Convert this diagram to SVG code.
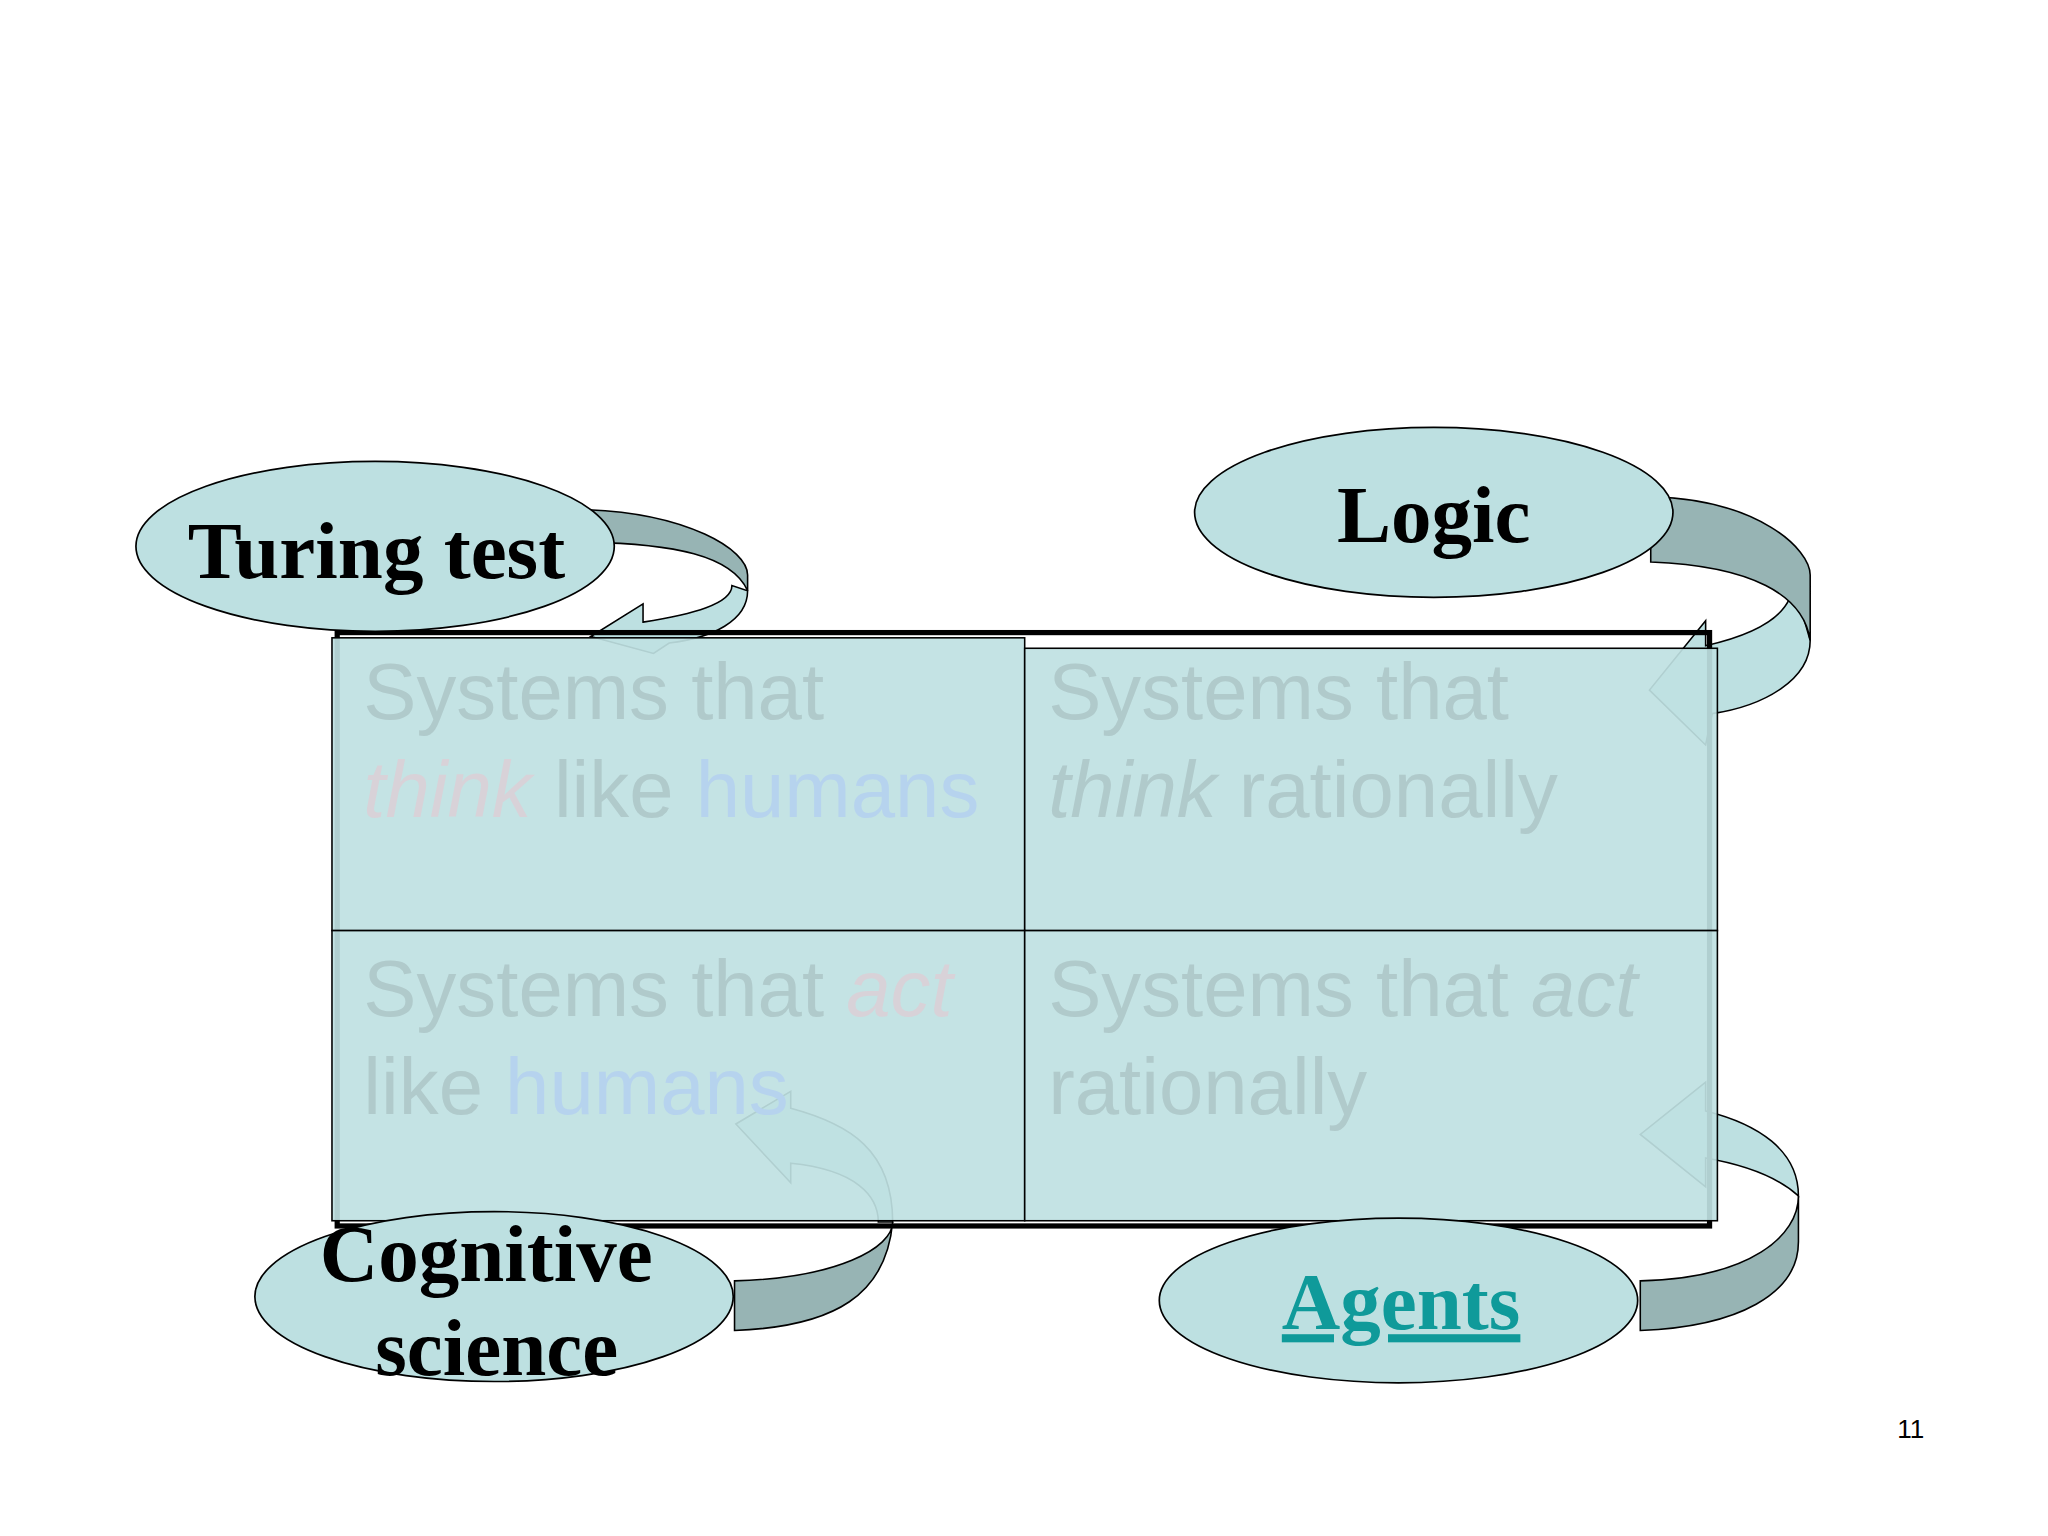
<svg xmlns="http://www.w3.org/2000/svg" width="2048" height="1536" viewBox="0 0 2048 1536">
<style>
.ell{fill:#bde0e1;stroke:#000;stroke-width:1.3}
.dk{fill:#97b4b4;stroke:#000;stroke-width:1.2}
.lt{fill:#bde0e1;stroke:#000;stroke-width:1.2}
.lbl{font-family:"Liberation Serif",serif;font-weight:bold;font-size:62px;fill:#000;text-anchor:middle}
.cell{font-family:"Liberation Sans",sans-serif;font-size:61px;fill:#b0cacb}
.hu{fill:#b6d3ee}.th{fill:#d8d2d8}
</style>
<rect width="2048" height="1536" fill="#fff"/>
<g transform="scale(1.307)">
<g id="connectors">
<path class="lt" d="M572,452 C572,475 545,488 512,492 L500,500 L452,487 L492,462 L492,476 C530,470 560,462 560,448 Z"/>
<path class="dk" d="M450,390 C525,393 572,420 572,440 L572,452 C560,425 515,416 450,415 Z"/>
<path class="lt" d="M1385,490 C1385,520 1350,540 1310,546 L1305,570 L1262,528 L1305,475 L1305,494 C1345,485 1372,470 1372,445 Z"/>
<path class="dk" d="M1263,380 C1345,382 1385,420 1385,440 L1385,490 C1380,455 1340,433 1263,430 Z"/>
<path class="lt" d="M683,935 C683,880 650,860 605,848 L605,835 L563,860 L605,905 L605,890 C655,895 672,915 672,935 Z"/>
<path class="dk" d="M562,980 C640,978 683,955 683,935 L683,935 C678,990 640,1015 562,1018 Z"/>
<path class="lt" d="M1376,915 C1376,880 1345,860 1305,850 L1305,828 L1255,868 L1305,908 L1305,886 C1345,893 1365,905 1376,915 Z"/>
<path class="dk" d="M1255,980 C1340,978 1376,945 1376,915 L1376,950 C1376,990 1330,1015 1255,1018 Z"/>
</g>
<g id="grid">
<rect x="258" y="484" width="1050" height="454" fill="none" stroke="#000" stroke-width="4"/>
<rect x="254" y="488" width="530" height="224" fill="#bfe1e2" fill-opacity="0.92" stroke="#000" stroke-width="1.2"/>
<rect x="784" y="496" width="530" height="216" fill="#bfe1e2" fill-opacity="0.92" stroke="#000" stroke-width="1.2"/>
<rect x="254" y="712" width="530" height="222" fill="#bfe1e2" fill-opacity="0.92" stroke="#000" stroke-width="1.2"/>
<rect x="784" y="712" width="530" height="222" fill="#bfe1e2" fill-opacity="0.92" stroke="#000" stroke-width="1.2"/>
<text class="cell" x="278" y="550">Systems that</text>
<text class="cell" x="278" y="625"><tspan class="th" font-style="italic">think</tspan> like <tspan class="hu">humans</tspan></text>
<text class="cell" x="802" y="550">Systems that</text>
<text class="cell" x="802" y="625"><tspan font-style="italic">think</tspan> rationally</text>
<text class="cell" x="278" y="777">Systems that <tspan class="th" font-style="italic">act</tspan></text>
<text class="cell" x="278" y="852">like <tspan class="hu">humans</tspan></text>
<text class="cell" x="802" y="777">Systems that <tspan font-style="italic">act</tspan></text>
<text class="cell" x="802" y="852">rationally</text>
</g>
<g id="turing"><ellipse class="ell" cx="287" cy="418" rx="183" ry="65"/><text class="lbl" x="288" y="442">Turing test</text></g>
<g id="logic"><ellipse class="ell" cx="1097" cy="392" rx="183" ry="65"/><text class="lbl" x="1097" y="415">Logic</text></g>
<g id="cognitive"><ellipse class="ell" cx="378" cy="992" rx="183" ry="65"/><text class="lbl" x="372" y="980">Cognitive</text><text class="lbl" x="380" y="1052">science</text></g>
<g id="agents"><ellipse class="ell" cx="1070" cy="995" rx="183" ry="63"/><text class="lbl" x="1072" y="1017" style="fill:#0f9a9a" text-decoration="underline">Agents</text></g>
<text x="1462" y="1100" font-family="Liberation Sans,sans-serif" font-size="20" text-anchor="middle">11</text>
</g>
</svg>
